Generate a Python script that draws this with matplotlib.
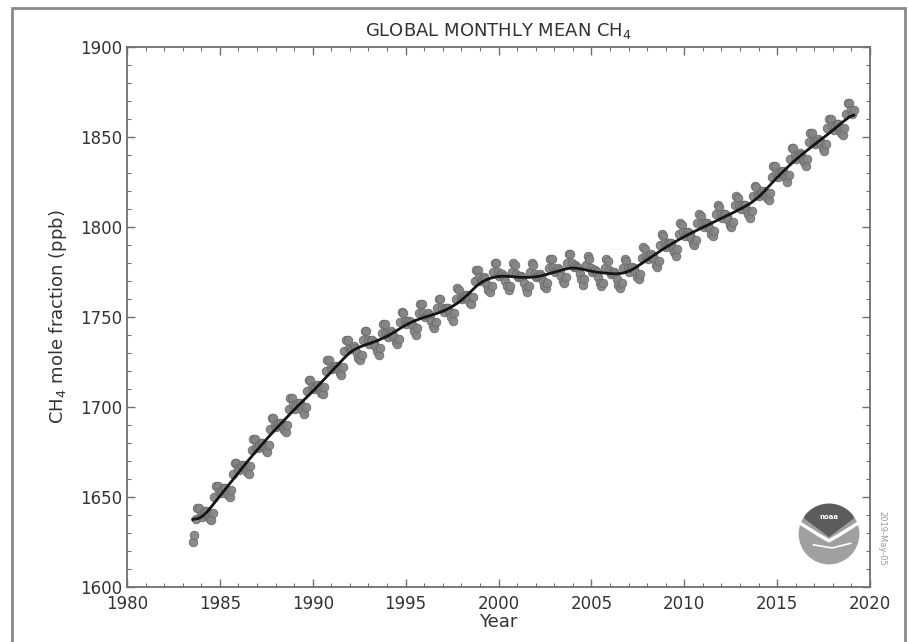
import matplotlib
matplotlib.use('Agg')
import matplotlib.pyplot as plt
from matplotlib.patches import Circle, Rectangle, Polygon
from matplotlib.ticker import MultipleLocator
import numpy as np
import pandas as pd

# Global monthly mean CH4 (ppb), one row per year (Jan..Dec)
start_year = 1983
start_month = 7  # record begins July 1983
ch4_rows = [
    [1625, 1629, 1638, 1644, 1644, 1640],                                   # 1983 Jul-Dec
    [1639, 1641, 1642, 1642, 1640, 1638, 1637, 1641, 1650, 1656, 1656, 1653],  # 1984
    [1652, 1654, 1655, 1655, 1653, 1651, 1650, 1654, 1663, 1669, 1669, 1666],  # 1985
    [1665, 1667, 1668, 1668, 1666, 1664, 1663, 1667, 1676, 1682, 1682, 1678],  # 1986
    [1677, 1679, 1680, 1680, 1678, 1676, 1675, 1679, 1688, 1694, 1694, 1690],  # 1987
    [1689, 1690, 1691, 1691, 1689, 1687, 1686, 1690, 1699, 1705, 1705, 1701],  # 1988
    [1699, 1701, 1702, 1702, 1700, 1698, 1696, 1700, 1709, 1715, 1715, 1711],  # 1989
    [1710, 1711, 1712, 1712, 1710, 1708, 1707, 1711, 1720, 1726, 1726, 1722],  # 1990
    [1721, 1722, 1723, 1723, 1721, 1719, 1718, 1722, 1731, 1737, 1737, 1733],  # 1991
    [1732, 1733, 1734, 1733, 1730, 1727, 1726, 1729, 1737, 1742, 1742, 1737],  # 1992
    [1735, 1737, 1737, 1736, 1734, 1731, 1729, 1733, 1741, 1746, 1746, 1741],  # 1993
    [1739, 1741, 1742, 1741, 1739, 1736, 1735, 1738, 1747, 1753, 1752, 1748],  # 1994
    [1746, 1748, 1748, 1747, 1745, 1742, 1740, 1744, 1752, 1757, 1757, 1752],  # 1995
    [1750, 1751, 1752, 1751, 1748, 1745, 1744, 1747, 1755, 1760, 1760, 1755],  # 1996
    [1753, 1755, 1755, 1755, 1752, 1750, 1748, 1752, 1760, 1766, 1765, 1761],  # 1997
    [1760, 1761, 1762, 1762, 1760, 1758, 1757, 1761, 1770, 1776, 1776, 1772],  # 1998
    [1770, 1771, 1772, 1771, 1768, 1765, 1764, 1767, 1775, 1780, 1780, 1775],  # 1999
    [1773, 1774, 1774, 1773, 1770, 1767, 1765, 1767, 1775, 1780, 1779, 1774],  # 2000
    [1772, 1773, 1773, 1772, 1769, 1766, 1764, 1767, 1775, 1780, 1779, 1774],  # 2001
    [1772, 1773, 1774, 1773, 1770, 1767, 1766, 1769, 1777, 1782, 1782, 1777],  # 2002
    [1775, 1776, 1777, 1776, 1773, 1770, 1769, 1772, 1780, 1785, 1785, 1780],  # 2003
    [1778, 1779, 1778, 1777, 1774, 1771, 1768, 1771, 1779, 1784, 1782, 1777],  # 2004
    [1775, 1776, 1776, 1775, 1772, 1769, 1767, 1769, 1777, 1782, 1781, 1776],  # 2005
    [1774, 1775, 1775, 1774, 1771, 1768, 1766, 1769, 1777, 1782, 1781, 1777],  # 2006
    [1775, 1777, 1778, 1777, 1775, 1772, 1771, 1774, 1783, 1789, 1788, 1784],  # 2007
    [1782, 1784, 1785, 1784, 1782, 1779, 1778, 1781, 1790, 1796, 1795, 1791],  # 2008
    [1789, 1791, 1791, 1791, 1788, 1786, 1784, 1788, 1796, 1802, 1801, 1797],  # 2009
    [1795, 1797, 1797, 1796, 1794, 1791, 1790, 1793, 1802, 1807, 1806, 1802],  # 2010
    [1800, 1802, 1802, 1801, 1799, 1796, 1795, 1798, 1807, 1812, 1811, 1807],  # 2011
    [1805, 1807, 1807, 1806, 1804, 1801, 1800, 1803, 1812, 1817, 1816, 1812],  # 2012
    [1810, 1812, 1812, 1812, 1809, 1807, 1805, 1809, 1817, 1823, 1822, 1818],  # 2013
    [1817, 1819, 1820, 1820, 1818, 1816, 1815, 1819, 1828, 1834, 1834, 1830],  # 2014
    [1828, 1830, 1831, 1831, 1829, 1827, 1825, 1829, 1838, 1844, 1844, 1840],  # 2015
    [1838, 1840, 1841, 1840, 1838, 1836, 1834, 1838, 1847, 1852, 1852, 1848],  # 2016
    [1846, 1848, 1849, 1848, 1846, 1844, 1842, 1846, 1855, 1860, 1860, 1856],  # 2017
    [1854, 1856, 1857, 1857, 1854, 1852, 1851, 1855, 1863, 1869, 1869, 1865],  # 2018
    [1863, 1865],                                                           # 2019 Jan-Feb
]

x_ticks = [1980, 1985, 1990, 1995, 2000, 2005, 2010, 2015, 2020]
y_ticks = [1600, 1650, 1700, 1750, 1800, 1850, 1900]

# flatten into a monthly series with decimal-year time stamps
values = []
times = []
for i, row in enumerate(ch4_rows):
    first = start_month if i == 0 else 1
    for j, v in enumerate(row):
        month = first + j
        times.append(start_year + i + (month - 0.5) / 12.0)
        values.append(v)
monthly = pd.Series(values, index=times)

# de-seasonalised trend: centred 12-month mean, lightly smoothed
trend = monthly.rolling(12, center=True, min_periods=7).mean()
trend = trend.rolling(7, center=True, min_periods=1).mean()

text_color = '#333333'
spine_color = '#707070'

fig = plt.figure(figsize=(9.08, 6.42), dpi=100)
fig.patch.set_facecolor('white')
# outer frame around the graphic
fig.patches.append(Rectangle((12 / 908, -0.05), (905 - 12) / 908, 1.05 - 8 / 642,
                             transform=fig.transFigure, fill=False,
                             edgecolor='#8a8a8a', linewidth=2))

ax = fig.add_axes([127 / 908, 1 - 587 / 642, (870 - 127) / 908, (587 - 47) / 642])
ax.plot(monthly.index, monthly.values, 'o', color='#858585', markersize=6.2,
        markeredgecolor='#6a6a6a', markeredgewidth=0.6, alpha=0.95, zorder=2)
ax.plot(trend.index, trend.values, '-', color='#151515', linewidth=2.0, zorder=3)

ax.set_xlim(1980, 2020)
ax.set_ylim(1600, 1900)
ax.set_xticks(x_ticks)
ax.set_yticks(y_ticks)
ax.xaxis.set_minor_locator(MultipleLocator(1))
ax.yaxis.set_minor_locator(MultipleLocator(10))
ax.tick_params(which='both', direction='in', top=True, right=True,
               color=spine_color, labelcolor=text_color, labelsize=12)
ax.tick_params(axis='x', which='major', pad=6)
ax.tick_params(which='major', length=6, width=1)
ax.tick_params(which='minor', length=3, width=0.8)
for s in ax.spines.values():
    s.set_color(spine_color)
    s.set_linewidth(1.3)

ax.set_title('GLOBAL MONTHLY MEAN CH$_4$', fontsize=13, color=text_color, pad=8)
ax.set_xlabel('Year', fontsize=13, color=text_color, labelpad=0)
ax.set_ylabel('CH$_4$ mole fraction (ppb)', fontsize=13, color=text_color, labelpad=8)

# date stamp along the right edge
fig.text(882 / 908, 1 - 538 / 642, '2019-May-05', rotation=270, fontsize=6,
         color='#9a9a9a', ha='center', va='center')

# NOAA logo (simplified)
cx, cy, r = 829, 534, 31
ax_logo = fig.add_axes([(cx - r) / 908, 1 - (cy + r) / 642, 2 * r / 908, 2 * r / 642])
ax_logo.set_xlim(-1, 1)
ax_logo.set_ylim(-1, 1)
ax_logo.axis('off')
ax_logo.add_patch(Circle((0, 0), 0.98, facecolor='#a0a0a0', edgecolor='none'))
top = np.linspace(np.pi * 0.2, np.pi * 0.8, 30)
cap = [(np.cos(t) * 0.98, np.sin(t) * 0.98) for t in top]
cap = cap + [(-0.8, 0.5), (0.0, -0.1), (0.8, 0.5)]
ax_logo.add_patch(Polygon(cap, closed=True, facecolor='#5c5c5c', edgecolor='none'))
ax_logo.plot([-0.98, -0.35, 0.0, 0.35, 0.98], [0.38, -0.02, -0.22, -0.02, 0.38],
             color='white', linewidth=2.4, solid_capstyle='round')
ax_logo.plot([-0.5, 0.1, 0.7], [-0.35, -0.45, -0.3], color='white', linewidth=1.2)
ax_logo.text(0, 0.55, 'noaa', fontsize=5, color='white', ha='center', va='center',
             fontweight='bold')

fig.savefig('out.png', dpi=100)
